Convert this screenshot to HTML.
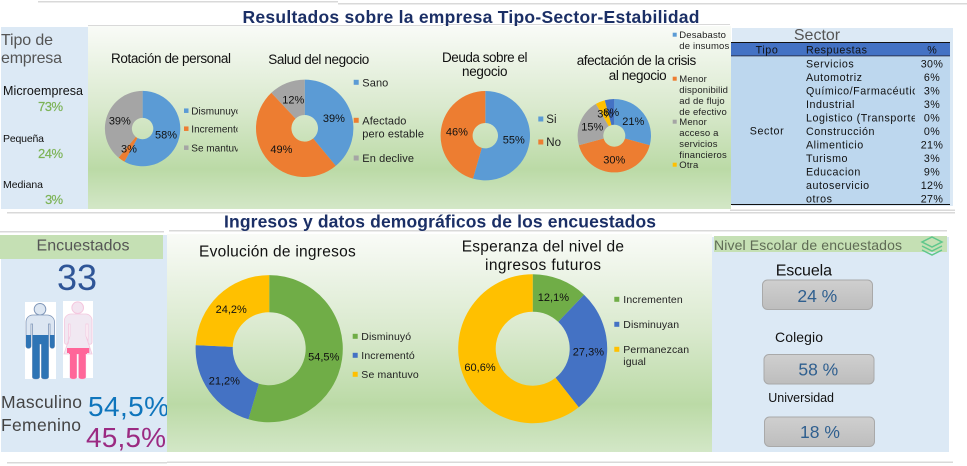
<!DOCTYPE html>
<html lang="es">
<head>
<meta charset="utf-8">
<title>Resultados sobre la empresa</title>
<style>
html,body{margin:0;padding:0;background:#fff;width:967px;height:466px;overflow:hidden}
svg{display:block;filter:blur(.3px)}
text{font-family:"Liberation Sans",sans-serif}
</style>
</head>
<body>
<svg id="dash" width="967" height="466" viewBox="0 0 967 466" xmlns="http://www.w3.org/2000/svg">
<defs>
<linearGradient id="panelGreen" x1="0" y1="0" x2="0" y2="1">
<stop offset="0" stop-color="#f9fbf7"/><stop offset=".45" stop-color="#d9e9cd"/><stop offset=".78" stop-color="#bbdaa6"/><stop offset="1" stop-color="#d3e7c7"/>
</linearGradient>
<linearGradient id="boxGray" x1="0" y1="0" x2="0" y2="1">
<stop offset="0" stop-color="#cfcfcf"/><stop offset="1" stop-color="#bdbdbd"/>
</linearGradient>
<clipPath id="legendClip"><rect x="180" y="100" width="57.5" height="60"/></clipPath>
<clipPath id="tableClip"><rect x="800" y="56" width="115" height="150"/></clipPath>
<path id="manShape" d="M33 315h14c4 0 7.500 3 7.500 7v24c0 3-4.500 3-4.500 0v-22h-1.500v53c0 2.500-7 2.500-7 0v-33h-2v33c0 2.500-7 2.500-7 0v-53H31v22c0 3-5 3-5 0v-24c0-4 3-7 7-7z"/>
<path id="womanShape" d="M71 314h15c3 0 6 3 6 6v22c0 3-4 3-4 0v-18h-2v12l6 18H85.700v23c0 2.500-7 2.500-7 0v-23h-2v23c0 2.500-6.700 2.500-6.700 0v-23H64l6-18v-12h-1.500v18c0 3-4 3-4 0v-22c0-3 3-6 6.500-6z"/>
<clipPath id="manFill"><rect x="20" y="335" width="40" height="50"/></clipPath>
<clipPath id="womanFill"><rect x="67" y="348" width="22.300" height="5"/><rect x="69" y="352" width="18" height="30"/></clipPath>
</defs>

<g fill="#d9d9d9">
<rect x="38" y="1" width="300" height="1.500"/><rect x="338" y="3" width="629" height="1.500"/>
<rect x="88" y="25" width="355" height="1"/><rect x="443" y="24" width="287" height="1"/>
<rect x="7" y="212" width="948" height="1.500"/><rect x="0" y="231" width="164" height="1.500"/>
<rect x="169" y="230" width="778" height="1.500"/><rect x="7" y="462" width="160" height="1.500"/>
<rect x="167" y="461.500" width="786" height="1.500"/><rect x="730" y="209.500" width="225" height="1.500"/>
</g>

<text x="242.500" y="23" font-size="17.500" font-weight="bold" fill="#1b2f66" textLength="457">Resultados sobre la empresa Tipo-Sector-Estabilidad</text>
<text x="224" y="227.500" font-size="17.500" font-weight="bold" fill="#1b2f66" textLength="432">Ingresos y datos demográficos de los encuestados</text>

<g>
<rect x="1" y="27" width="87" height="182" fill="#dce9f5"/>
<text x="1" y="45" font-size="16" fill="#555" textLength="52">Tipo de</text>
<text x="1" y="63" font-size="16" fill="#555" textLength="61">empresa</text>
<text x="3" y="95" font-size="12.500" fill="#111" textLength="80">Microempresa</text>
<text x="38" y="111" font-size="13" fill="#7cb356" stroke="#7cb356" stroke-width=".2" textLength="25">73%</text>
<text x="3" y="142" font-size="10.500" fill="#111" textLength="41">Pequeña</text>
<text x="38" y="158" font-size="13" fill="#7cb356" stroke="#7cb356" stroke-width=".2" textLength="25">24%</text>
<text x="3" y="188" font-size="10.500" fill="#111" textLength="40">Mediana</text>
<text x="45" y="204" font-size="13" fill="#7cb356" stroke="#7cb356" stroke-width=".2" textLength="18">3%</text>
</g>

<rect x="88" y="26" width="643" height="183" fill="url(#panelGreen)"/>
<text x="111" y="63" font-size="13.500" fill="#111" textLength="120">Rotación de personal</text>
<text x="268.300" y="64" font-size="13.500" fill="#111" textLength="101">Salud del negocio</text>
<text x="442" y="62" font-size="13.500" fill="#111" textLength="85.500">Deuda sobre el</text>
<text x="462" y="76" font-size="13.500" fill="#111" textLength="45.500">negocio</text>
<text x="576.700" y="65" font-size="13.500" fill="#111" textLength="119.500">afectación de la crisis</text>
<text x="608.700" y="80" font-size="13.500" fill="#111" textLength="58">al negocio</text>

<g>
<rect x="732" y="28" width="221" height="178" fill="#dce9f5"/>
<text x="817" y="40" font-size="16" fill="#555" text-anchor="middle">Sector</text>
<rect x="731" y="42.500" width="219" height="13.500" fill="#4472c4"/>
<rect x="731" y="56" width="219" height="148" fill="#bdd7ee"/>
<rect x="731" y="42" width="219" height="1" fill="#111"/><rect x="731" y="55.500" width="219" height=".8" fill="#223"/><rect x="731" y="204" width="219" height="1" fill="#111"/>
<text x="767" y="53.500" font-size="10.700" fill="#111" text-anchor="middle" letter-spacing=".6">Tipo</text>
<text x="806" y="53.500" font-size="10.700" fill="#111" letter-spacing=".5">Respuestas</text>
<text x="932" y="53.500" font-size="10.700" fill="#111" text-anchor="middle">%</text>
<text x="767" y="134.500" font-size="10.700" fill="#111" text-anchor="middle" letter-spacing=".6">Sector</text>
<g clip-path="url(#tableClip)" font-size="10.700" fill="#111" letter-spacing=".55">
<text x="806" y="67.500">Servicios</text><text x="806" y="81">Automotriz</text><text x="806" y="94.500">Químico/Farmacéutico</text>
<text x="806" y="108">Industrial</text><text x="806" y="121.500">Logistico (Transporte)</text><text x="806" y="135">Construcción</text>
<text x="806" y="148.500">Alimenticio</text><text x="806" y="162">Turismo</text><text x="806" y="175.500">Educacion</text>
<text x="806" y="189">autoservicio</text><text x="806" y="202.500">otros</text>
</g>
<g font-size="10.700" fill="#111" text-anchor="middle" letter-spacing=".4">
<text x="932" y="67.500">30%</text><text x="932" y="81">6%</text><text x="932" y="94.500">3%</text><text x="932" y="108">3%</text>
<text x="932" y="121.500">0%</text><text x="932" y="135">0%</text><text x="932" y="148.500">21%</text><text x="932" y="162">3%</text>
<text x="932" y="175.500">9%</text><text x="932" y="189">12%</text><text x="932" y="202.500">27%</text>
</g>
</g>

<g>
<rect x="1" y="235" width="166" height="217" fill="#dce9f5"/>
<rect x="0" y="235" width="163" height="24" fill="#c5e0b4"/>
<text x="83" y="250.500" font-size="16" fill="#555" text-anchor="middle" textLength="93">Encuestados</text>
<text x="77" y="290" font-size="36" fill="#2f5597" text-anchor="middle">33</text>
<rect x="25" y="302" width="31" height="77" fill="#fff"/>
<rect x="63" y="301" width="30" height="77" fill="#fff"/>
<g>
<circle cx="40" cy="309.300" r="5.800" fill="#dce6f2" stroke="#7f96b8"/>
<use href="#manShape" fill="#dce6f2" stroke="#7f96b8" stroke-width=".8"/>
<use href="#manShape" fill="#2e74b5" clip-path="url(#manFill)"/>
</g>
<g>
<circle cx="77.700" cy="307.700" r="5.800" fill="#f3e4f0" stroke="#f4c6de"/>
<use href="#womanShape" fill="#f1e8f2" stroke="#f4c6de" stroke-width=".8"/>
<use href="#womanShape" fill="#ff6699" clip-path="url(#womanFill)"/>
</g>
<text x="1" y="408" font-size="17.500" fill="#444" textLength="81">Masculino</text>
<text x="1" y="431" font-size="17.500" fill="#444" textLength="80">Femenino</text>
<text x="88" y="416" font-size="28" fill="#0f75bc" textLength="81">54,5%</text>
<text x="86" y="447" font-size="28" fill="#9b2a82" textLength="80">45,5%</text>
</g>

<rect x="167" y="234" width="545" height="218" fill="url(#panelGreen)"/>
<text x="199" y="256.700" font-size="15.500" fill="#111" textLength="156.700">Evolución de ingresos</text>
<text x="461.700" y="251.700" font-size="15.500" fill="#111" textLength="162.300">Esperanza del nivel de</text>
<text x="485" y="270" font-size="15.500" fill="#111" textLength="116">ingresos futuros</text>

<g>
<rect x="712" y="237" width="237" height="215" fill="#dce9f5"/>
<rect x="714" y="236" width="233" height="16" fill="#c5e0b4"/>
<text x="714" y="250" font-size="14" fill="#5f6b55" textLength="188">Nivel Escolar de encuestados</text>
<g fill="none" stroke="#5fc78c" stroke-width="1.500">
<path d="M932 237l10 5-10 5-10-5z"/><path d="M922 246l10 5 10-5"/><path d="M922 250l10 5 10-5"/>
</g>
<text x="775.700" y="275.700" font-size="16" fill="#111" textLength="56.300">Escuela</text>
<rect x="762.500" y="280" width="110" height="29.500" rx="5" fill="url(#boxGray)" stroke="#a9a9a9"/>
<text x="817.300" y="302" font-size="17.500" fill="#2f5f8f" text-anchor="middle">24 %</text>
<text x="775" y="342" font-size="14" fill="#111" textLength="48">Colegio</text>
<rect x="764" y="354.500" width="110" height="29.500" rx="5" fill="url(#boxGray)" stroke="#a9a9a9"/>
<text x="818.300" y="375.700" font-size="17.500" fill="#2f5f8f" text-anchor="middle">58 %</text>
<text x="768.300" y="402" font-size="12.500" fill="#111" textLength="65.700">Universidad</text>
<rect x="764.500" y="417" width="110" height="29.500" rx="5" fill="url(#boxGray)" stroke="#a9a9a9"/>
<text x="820" y="438" font-size="17.500" fill="#2f5f8f" text-anchor="middle">18 %</text>
</g>

<g id="charts"></g>
</svg>

<script>
const rotacionCategories = ['Dismunuyó', 'Incrementó', 'Se mantuvo'];
const rotacionValues = [58, 3, 39];
const saludCategories = ['Sano', 'Afectado|pero estable', 'En declive'];
const saludValues = [39, 49, 12];
const deudaCategories = ['Si', 'No'];
const deudaValues = [55, 46];
const afectacionCategories = ['Desabasto|de insumos', 'Menor|disponibilid|ad de flujo|de efectivo', 'Menor|acceso a|servicios|financieros', 'Otra'];
const afectacionValues = [21, 30, 15, 3, 3];
const afectacionLabels = ['21%', '30%', '15%', '3%', '8%'];
const evolucionCategories = ['Disminuyó', 'Incrementó', 'Se mantuvo'];
const evolucionValues = [54.5, 21.2, 24.2];
const esperanzaCategories = ['Incrementen', 'Disminuyan', 'Permanezcan|igual'];
const esperanzaValues = [12.1, 27.3, 60.6];

const officeColors = ['#5b9bd5', '#ed7d31', '#a5a5a5', '#ffc000', '#4472c4'];
const greenColors = ['#70ad47', '#4472c4', '#ffc000'];
const NS = 'http://www.w3.org/2000/svg';
const root = document.getElementById('charts');

function pct(v) { return v + '%'; }
function pct1(v) { return v.toFixed(1).replace('.', ',') + '%'; }

function polar(cx, cy, r, frac) {
  const a = frac * 2 * Math.PI;
  return [cx + r * Math.sin(a), cy - r * Math.cos(a)];
}

function donut(name, cx, cy, r, hole, values, labels, colors, fontSize) {
  const g = document.createElementNS(NS, 'g');
  
  
  root.appendChild(g);
  const total = values.reduce((a, b) => a + b, 0);
  let start = 0;
  const mids = [];
  values.forEach((v, i) => {
    const end = start + v / total;
    const p1 = polar(cx, cy, r, start), p2 = polar(cx, cy, r, end);
    const p3 = polar(cx, cy, hole, end), p4 = polar(cx, cy, hole, start);
    const large = v / total > 0.5 ? 1 : 0;
    const path = document.createElementNS(NS, 'path');
    path.setAttribute('d', 'M' + p1[0] + ' ' + p1[1] + 'A' + r + ' ' + r + ' 0 ' + large + ' 1 ' + p2[0] + ' ' + p2[1] +
      'L' + p3[0] + ' ' + p3[1] + 'A' + hole + ' ' + hole + ' 0 ' + large + ' 0 ' + p4[0] + ' ' + p4[1] + 'Z');
    path.setAttribute('fill', colors[i]);
    
    
    g.appendChild(path);
    mids.push((start + end) / 2);
    start = end;
  });
  mids.forEach((m, i) => {
    const pos = polar(cx, cy, (r + hole) / 2, m);
    const t = document.createElementNS(NS, 'text');
    t.setAttribute('x', pos[0]);
    t.setAttribute('y', pos[1] + fontSize * 0.36);
    t.setAttribute('text-anchor', 'middle');
    t.setAttribute('font-size', fontSize);
    t.setAttribute('fill', '#111');
    
    
    t.textContent = labels[i];
    g.appendChild(t);
  });
}

function legendEntry(category, color, x, textX, y, swatch, fontSize, lineStep, spacing, clip) {
  const g = document.createElementNS(NS, 'g');
  
  
  root.appendChild(g);
  const s = document.createElementNS(NS, 'rect');
  s.setAttribute('x', x);
  s.setAttribute('y', y - swatch / 2);
  s.setAttribute('width', swatch);
  s.setAttribute('height', swatch);
  s.setAttribute('fill', color);
  g.appendChild(s);
  category.split('|').forEach((line, i) => {
    const t = document.createElementNS(NS, 'text');
    t.setAttribute('x', textX);
    t.setAttribute('y', y + i * lineStep + fontSize * 0.36);
    t.setAttribute('font-size', fontSize);
    t.setAttribute('fill', '#222');
    t.setAttribute('letter-spacing', spacing);
    if (clip) t.setAttribute('clip-path', clip);
    t.textContent = line;
    g.appendChild(t);
  });
}

donut('rotacion', 142.6, 128.6, 37.7, 10.7, rotacionValues, rotacionValues.map(pct), officeColors, 11);
donut('salud', 304.7, 128.3, 48.7, 13.3, saludValues, saludValues.map(pct), officeColors, 11);
donut('deuda', 485.3, 135.7, 44.7, 12.7, deudaValues, deudaValues.map(pct), officeColors, 11);
donut('afectacion', 614.3, 135.7, 36.7, 11, afectacionValues, afectacionLabels, officeColors, 11);
donut('evolucion', 269.2, 348.7, 73.6, 36.5, evolucionValues, evolucionValues.map(pct1), greenColors, 11);
donut('esperanza', 532.7, 348.7, 74.5, 37, esperanzaValues, esperanzaValues.map(pct1), greenColors, 11);

legendEntry(rotacionCategories[0], officeColors[0], 184, 191.3, 110.7, 4.5, 10, 0, 0, 'url(#legendClip)');
legendEntry(rotacionCategories[1], officeColors[1], 184, 191.3, 128.7, 4.5, 10, 0, 0, 'url(#legendClip)');
legendEntry(rotacionCategories[2], officeColors[2], 184, 191.3, 147.7, 4.5, 10, 0, 0, 'url(#legendClip)');
legendEntry(saludCategories[0], officeColors[0], 353.7, 362.3, 82.3, 5, 11, 13, .1);
legendEntry(saludCategories[1], officeColors[1], 353.7, 362.3, 120.3, 5, 11, 13, .1);
legendEntry(saludCategories[2], officeColors[2], 353.7, 362.3, 158, 5, 11, 13, .1);
legendEntry(deudaCategories[0], officeColors[0], 538.3, 546.3, 119, 5, 11.5, 13, 0);
legendEntry(deudaCategories[1], officeColors[1], 538.3, 546.3, 142, 5, 11.5, 13, 0);
legendEntry(afectacionCategories[0], officeColors[0], 672.7, 679.3, 34.7, 4, 9.5, 11, .15);
legendEntry(afectacionCategories[1], officeColors[1], 672.7, 679.3, 78.7, 4, 9.5, 11, .15);
legendEntry(afectacionCategories[2], officeColors[2], 672.7, 679.3, 121.7, 4, 9.5, 11, .15);
legendEntry(afectacionCategories[3], officeColors[3], 672.7, 679.3, 164.7, 4, 9.5, 11, .15);
legendEntry(evolucionCategories[0], greenColors[0], 352.7, 361.3, 336.3, 5, 10.5, 12, .1);
legendEntry(evolucionCategories[1], greenColors[1], 352.7, 361.3, 355.3, 5, 10.5, 12, .1);
legendEntry(evolucionCategories[2], greenColors[2], 352.7, 361.3, 374.3, 5, 10.5, 12, .15);
legendEntry(esperanzaCategories[0], greenColors[0], 614.3, 623.3, 299.3, 5, 10.5, 12, .1);
legendEntry(esperanzaCategories[1], greenColors[1], 614.3, 623.3, 324.3, 5, 10.5, 12, .1);
legendEntry(esperanzaCategories[2], greenColors[2], 614.3, 623.3, 349.3, 5, 10.5, 12, .1);
</script>
</body>
</html>
